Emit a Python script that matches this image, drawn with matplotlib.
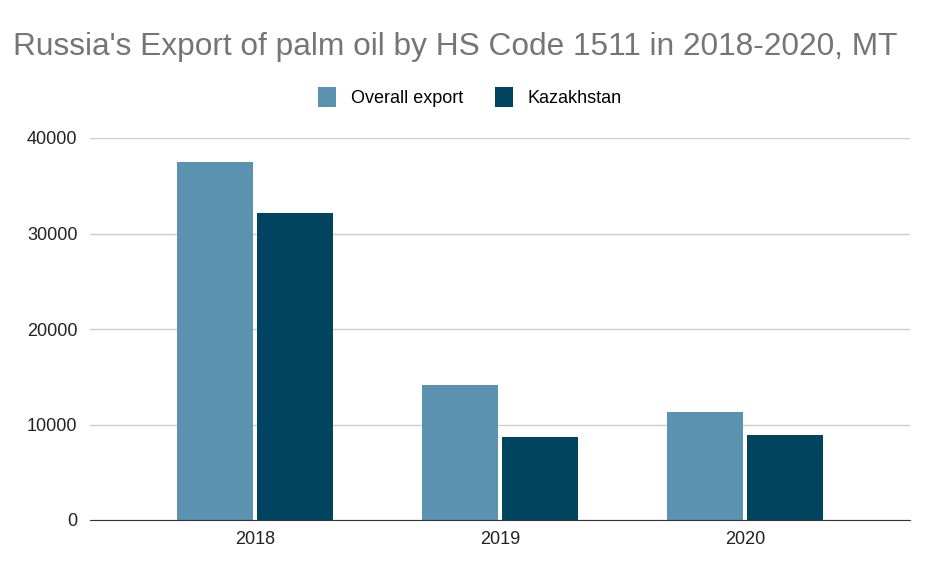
import matplotlib.pyplot as plt
import numpy as np

# data
years = ['2018', '2019', '2020']
overall = [37500, 14100, 11300]
kazakhstan = [32100, 8700, 8900]

plt.rcParams['font.family'] = ['Liberation Sans', 'DejaVu Sans']

fig = plt.figure(figsize=(9.39, 5.79), dpi=100)
fig.patch.set_facecolor('white')
ax = fig.add_axes([90 / 939, 59 / 579, 820 / 939, 382 / 579])

x = np.arange(len(years))
w = 0.31
gap = 0.008
ax.bar(x - w / 2 - gap, overall, w, color='#5a92b0', label='Overall export', zorder=3)
ax.bar(x + w / 2 + gap, kazakhstan, w, color='#01445f', label='Kazakhstan', zorder=3)

ax.set_xlim(-0.673, 2.673)
ax.set_ylim(0, 40000)
ax.set_yticks([0, 10000, 20000, 30000, 40000])
ax.set_xticks(x)
ax.set_xticklabels(years)
ax.grid(axis='y', color='#cccccc', linewidth=1, zorder=0)
for s in ['top', 'right', 'left']:
    ax.spines[s].set_visible(False)
ax.spines['bottom'].set_color('#333333')
ax.spines['bottom'].set_zorder(4)
ax.tick_params(axis='both', length=0, labelsize=13, colors='#222222')
ax.tick_params(axis='y', pad=9)
ax.tick_params(axis='x', pad=8)

fig.text(455 / 939, 1 - 47 / 579, "Russia's Export of palm oil by HS Code 1511 in 2018-2020, MT",
         fontsize=22.8, color='#757575', ha='center', va='center')

fig.legend(loc='center', bbox_to_anchor=(470 / 939, 1 - 97 / 579), ncol=2, frameon=False,
           fontsize=13, handlelength=1.0, handleheight=1.3, handletextpad=0.8, columnspacing=1.8)

fig.savefig('out.png', dpi=100, facecolor='white')
